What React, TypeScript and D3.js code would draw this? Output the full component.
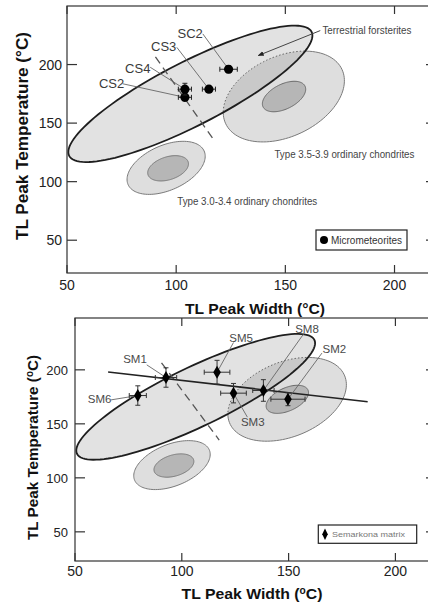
import React from "react";
import * as d3 from "d3";

// shared axes
const xDomain = [50, 219];
const tickValues = [50, 100, 150, 200];

// reference fields: centre + two conjugate half-axes, all in data units
const ellipseIds = ["oc30Outer", "oc30Inner", "oc35Outer", "oc35Inner", "forsterite"];
const ellipseCx = [95.4, 96.3, 149.3, 149.4, 106.5];
const ellipseCy = [111.8, 111.4, 172.7, 172.7, 175];
const ellipseUx = [17.4, 9.2, 26.6, 9.6, 55.5];
const ellipseUy = [14.4, 5.5, 23.3, 8.9, 53];
const ellipseVx = [4.2, 1.6, 7.9, 2.5, 6.7];
const ellipseVy = [-17.5, -9.3, -31.0, -9.5, -24.2];

// micrometeorites (top panel)
const mmNames = ["CS2", "CS4", "CS3", "SC2"];
const mmWidth = [104, 104, 115, 124];
const mmTemp = [172, 179, 179, 196];
const mmWidthErr = [3, 3, 3, 4];
const mmTempErr = [3, 5, 2, 3];
const mmLabelX = [70.4, 82.4, 94.3, 106.4];
const mmLabelY = [179.6, 193.2, 211.9, 222.9];
const mmLeadX = [75.5, 88.1, 100.3, 112.2];
const mmLeadY = [183.6, 197.7, 214.7, 226.2];

// Semarkona matrix (bottom panel)
const smNames = ["SM6", "SM1", "SM5", "SM3", "SM8", "SM2"];
const smWidth = [79.4, 92.6, 116.5, 124.2, 138.2, 149.7];
const smTemp = [176.2, 192.9, 197.8, 178.4, 180.9, 172.8];
const smWidthErr = [4, 5, 6, 6, 5, 8];
const smTempErr = [9, 9, 11, 9, 10, 6];
const smLabelX = [61.5, 78.1, 127.8, 133.2, 158.6, 171.4];
const smLabelY = [169.4, 206.5, 225.9, 148.1, 234.3, 215.7];
const smLeadX = [66.9, 83.6, 124.2, 130.7, 157.3, 165.6];
const smLeadY = [172.2, 204.6, 225.3, 156.2, 234, 215.5];

// lines
const trendX = [65.5, 187];
const trendY = [198, 170.5];
const dashX = [90.5, 117.5];
const dashY = [206.5, 135];
const arrowX = [166, 137.6];
const arrowY = [229, 207.7];

const FONT = "'Liberation Sans', Arial, sans-serif";
const angles = d3.range(0, 360, 3).map((a) => (a * Math.PI) / 180);

function ellipsePath(i, x, y) {
  const pts = angles.map((t) => [
    ellipseCx[i] + ellipseUx[i] * Math.cos(t) + ellipseVx[i] * Math.sin(t),
    ellipseCy[i] + ellipseUy[i] * Math.cos(t) + ellipseVy[i] * Math.sin(t),
  ]);
  return d3
    .line()
    .x((d) => x(d[0]))
    .y((d) => y(d[1]))
    .curve(d3.curveLinearClosed)(pts);
}

const Panel = ({ id, box, yDomain, top }) => {
  const x = d3.scaleLinear().domain(xDomain).range([box.left, box.right]);
  const y = d3.scaleLinear().domain(yDomain).range([box.bottom, box.top]);
  const path = (i) => ellipsePath(i, x, y);
  const fIdx = ellipseIds.indexOf("forsterite");
  const o35 = ellipseIds.indexOf("oc35Outer");

  const names = top ? mmNames : smNames;
  const px = top ? mmWidth : smWidth;
  const py = top ? mmTemp : smTemp;
  const ex = top ? mmWidthErr : smWidthErr;
  const ey = top ? mmTempErr : smTempErr;
  const lx = top ? mmLabelX : smLabelX;
  const ly = top ? mmLabelY : smLabelY;
  const sx = top ? mmLeadX : smLeadX;
  const sy = top ? mmLeadY : smLeadY;

  return (
    <g>
      <defs>
        <clipPath id={`${id}-fclip`}>
          <path d={path(fIdx)} />
        </clipPath>
        <mask id={`${id}-fmask`}>
          <rect x={0} y={0} width={428} height={603} fill="white" />
          <path d={path(fIdx)} fill="black" />
        </mask>
      </defs>

      {/* chondrite fields */}
      {["oc30Outer", "oc30Inner"].map((k) => {
        const i = ellipseIds.indexOf(k);
        return (
          <path
            key={k}
            d={path(i)}
            fill={k.endsWith("Outer") ? "#dedede" : "#b6b6b6"}
            stroke="#7a7a7a"
            strokeWidth={1}
          />
        );
      })}
      <path d={path(o35)} fill="#dedede" stroke="none" />
      <path
        d={path(o35)}
        fill="none"
        stroke="#7a7a7a"
        strokeWidth={1}
        mask={`url(#${id}-fmask)`}
      />
      <path
        d={path(ellipseIds.indexOf("oc35Inner"))}
        fill="#b6b6b6"
        stroke="#6a6a6a"
        strokeWidth={1}
      />

      {/* terrestrial forsterites */}
      <path d={path(fIdx)} fill="#8f8f8f" fillOpacity={0.26} stroke="none" />
      <path
        d={path(o35)}
        fill="none"
        stroke="#666"
        strokeWidth={1}
        strokeDasharray="1.5,2"
        clipPath={`url(#${id}-fclip)`}
      />
      <path d={path(fIdx)} fill="none" stroke="#1e1e1e" strokeWidth={1.8} />

      {/* dashed divider */}
      <line
        x1={x(dashX[0])}
        y1={y(dashY[0])}
        x2={x(dashX[1])}
        y2={y(dashY[1])}
        stroke="#555"
        strokeWidth={1.3}
        strokeDasharray="8,5"
      />

      {!top && (
        <line
          x1={x(trendX[0])}
          y1={y(trendY[0])}
          x2={x(trendX[1])}
          y2={y(trendY[1])}
          stroke="#222"
          strokeWidth={1.6}
        />
      )}

      {top && (
        <g fontFamily={FONT} fill="#444">
          <defs>
            <marker
              id={`${id}-arrow`}
              viewBox="0 0 10 10"
              refX={9}
              refY={5}
              markerWidth={6}
              markerHeight={6}
              orient="auto"
            >
              <path d="M0,1 L10,5 L0,9 Z" fill="#222" />
            </marker>
          </defs>
          <line
            x1={x(arrowX[0])}
            y1={y(arrowY[0])}
            x2={x(arrowX[1])}
            y2={y(arrowY[1])}
            stroke="#444"
            strokeWidth={1}
            markerEnd={`url(#${id}-arrow)`}
          />
          <text x={x(167)} y={y(226.4)} fontSize={10} textLength={89} lengthAdjust="spacingAndGlyphs">
            Terrestrial forsterites
          </text>
          <text x={x(145)} y={y(119.9)} fontSize={10} textLength={140} lengthAdjust="spacingAndGlyphs">
            Type 3.5-3.9 ordinary chondrites
          </text>
          <text x={x(100.5)} y={y(79.9)} fontSize={10} textLength={140} lengthAdjust="spacingAndGlyphs">
            Type 3.0-3.4 ordinary chondrites
          </text>
        </g>
      )}

      {/* leaders + labels */}
      {names.map((n, i) => (
        <g key={n}>
          <line
            x1={x(sx[i])}
            y1={y(sy[i])}
            x2={x(px[i])}
            y2={y(py[i])}
            stroke="#666"
            strokeWidth={0.9}
          />
          <text
            x={x(lx[i])}
            y={y(ly[i])}
            textAnchor="middle"
            fontFamily={FONT}
            fontSize={top ? 13 : 11.5}
            fill={top ? "#3a3a3a" : "#4a4a4a"}
          >
            {n}
          </text>
        </g>
      ))}

      {/* error bars + markers */}
      {names.map((n, i) => {
        const cx = x(px[i]);
        const cy = y(py[i]);
        const xl = x(px[i] - ex[i]);
        const xr = x(px[i] + ex[i]);
        const yt = y(py[i] + ey[i]);
        const yb = y(py[i] - ey[i]);
        return (
          <g key={n} stroke={top ? "#222" : "#333"} strokeWidth={1}>
            <line x1={xl} y1={cy} x2={xr} y2={cy} />
            <line x1={xl} y1={cy - 2.5} x2={xl} y2={cy + 2.5} />
            <line x1={xr} y1={cy - 2.5} x2={xr} y2={cy + 2.5} />
            <line x1={cx} y1={yt} x2={cx} y2={yb} />
            <line x1={cx - 2.5} y1={yt} x2={cx + 2.5} y2={yt} />
            <line x1={cx - 2.5} y1={yb} x2={cx + 2.5} y2={yb} />
            {top ? (
              <circle cx={cx} cy={cy} r={4.6} fill="#000" stroke="none" />
            ) : (
              <path
                d={`M${cx},${cy - 6.5} L${cx + 3.8},${cy} L${cx},${cy + 6.5} L${cx - 3.8},${cy} Z`}
                fill="#000"
                stroke="none"
              />
            )}
          </g>
        );
      })}

      {/* frame + ticks */}
      <rect
        x={box.left}
        y={box.top}
        width={box.right - box.left}
        height={box.bottom - box.top}
        fill="none"
        stroke="#333"
        strokeWidth={1.2}
      />
      <g stroke="#333" strokeWidth={1.2}>
        {tickValues.map((t) => (
          <g key={`t${t}`}>
            <line x1={x(t)} y1={box.bottom} x2={x(t)} y2={box.bottom - 8} />
            <line x1={x(t)} y1={box.top} x2={x(t)} y2={box.top + 8} />
            <line x1={box.left} y1={y(t)} x2={box.left + 10} y2={y(t)} />
            <line x1={box.right} y1={y(t)} x2={box.right - 10} y2={y(t)} />
          </g>
        ))}
      </g>
      <g fontFamily={FONT} fill="#222">
        {tickValues.map((t) => (
          <text key={`xl${t}`} x={x(t)} y={box.xLabelY} textAnchor="middle" fontSize={14}>
            {t}
          </text>
        ))}
        {tickValues.map((t) => (
          <text
            key={`yl${t}`}
            x={box.yLabelX}
            y={y(t) + 5}
            textAnchor="end"
            fontSize={box.yTickSize}
          >
            {t}
          </text>
        ))}
      </g>

      {/* legend */}
      {top ? (
        <g fontFamily={FONT}>
          <rect x={316} y={230} width={91} height={20} fill="#fff" stroke="#222" strokeWidth={1.2} />
          <circle cx={324} cy={240} r={4} fill="#000" />
          <text x={331} y={244} fontSize={10} fill="#333" textLength={71} lengthAdjust="spacingAndGlyphs">
            Micrometeorites
          </text>
        </g>
      ) : (
        <g fontFamily={FONT}>
          <rect x={318.3} y={525} width={98.4} height={18.3} fill="#fff" stroke="#222" strokeWidth={1.2} />
          <path d="M325,528.5 L327.8,534.2 L325,540 L322.2,534.2 Z" fill="#000" />
          <text x={332} y={537.3} fontSize={8} fill="#777" textLength={73} lengthAdjust="spacingAndGlyphs">
            Semarkona matrix
          </text>
        </g>
      )}
    </g>
  );
};

const topBox = { left: 67, right: 436, top: 6, bottom: 273, xLabelY: 290, yLabelX: 62, yTickSize: 14 };
const bottomBox = { left: 75, right: 436, top: 318, bottom: 561, xLabelY: 576, yLabelX: 68, yTickSize: 13 };

const App = () => {
  return (
    <svg
      width={428}
      height={603}
      style={{ position: "absolute", left: 0, top: 0, background: "#fff" }}
    >
      <Panel id="top" box={topBox} yDomain={[22, 250]} top={true} />
      <Panel id="bot" box={bottomBox} yDomain={[23, 248]} top={false} />

      <g fontFamily={FONT} fontWeight="bold" fill="#111">
        <text
          transform="translate(28,136) rotate(-90)"
          textAnchor="middle"
          fontSize={17}
          textLength={208}
          lengthAdjust="spacingAndGlyphs"
        >
          TL Peak Temperature (°C)
        </text>
        <text x={255} y={314} textAnchor="middle" fontSize={15.5} textLength={140} lengthAdjust="spacingAndGlyphs">
          TL Peak Width (°C)
        </text>
        <text
          transform="translate(38,447.5) rotate(-90)"
          textAnchor="middle"
          fontSize={15.5}
          textLength={185}
          lengthAdjust="spacingAndGlyphs"
        >
          TL Peak Temperature (<tspan dy={-5} fontSize={10}>o</tspan>
          <tspan dy={5}>C)</tspan>
        </text>
        <text x={252} y={599} textAnchor="middle" fontSize={15.5} textLength={141} lengthAdjust="spacingAndGlyphs">
          TL Peak Width (<tspan dy={-5} fontSize={10}>o</tspan>
          <tspan dy={5}>C)</tspan>
        </text>
      </g>
    </svg>
  );
};

export default App;
